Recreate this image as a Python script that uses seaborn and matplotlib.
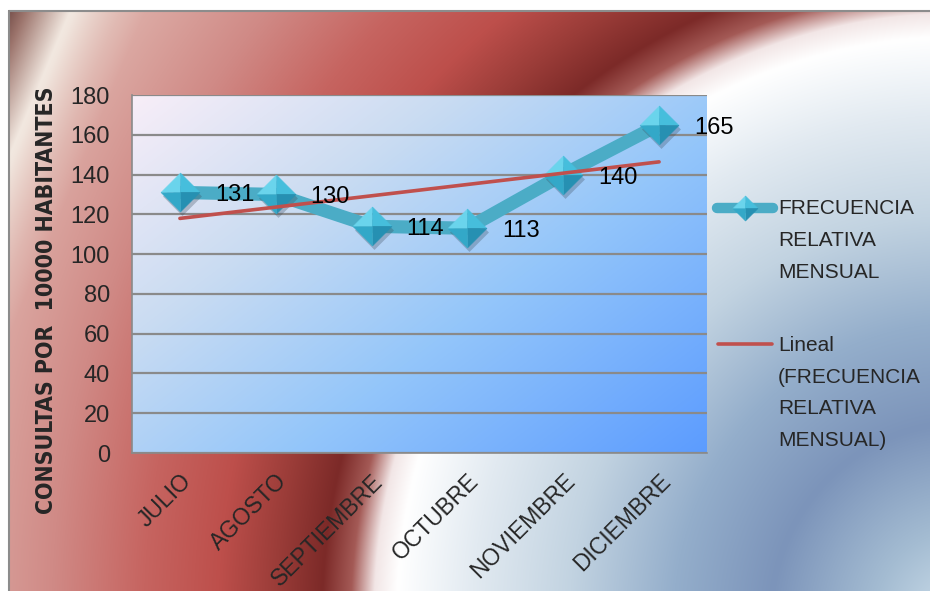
import numpy as np
import pandas as pd
import matplotlib
matplotlib.use("Agg")
import matplotlib.pyplot as plt
import matplotlib.transforms as mtransforms
from matplotlib.colors import to_rgb
import seaborn as sns

# ---- data ----
meses = ["JULIO", "AGOSTO", "SEPTIEMBRE", "OCTUBRE", "NOVIEMBRE", "DICIEMBRE"]
frecuencia = [131, 130, 114, 113, 140, 165]
marcas_y = [0, 20, 40, 60, 80, 100, 120, 140, 160, 180]
etiqueta_serie = "FRECUENCIA\nRELATIVA\nMENSUAL"
etiqueta_tendencia = "Lineal\n(FRECUENCIA\nRELATIVA\nMENSUAL)"
titulo_y = "CONSULTAS POR  10000 HABITANTES"

sns.set_theme(style="white")
plt.rcParams["font.family"] = ["Liberation Sans", "DejaVu Sans"]

TEAL = "#4bacc6"
RED = "#c0504d"
GRID = "#8a8a8a"

W, H = 930, 591
fig = plt.figure(figsize=(W / 100, H / 100), dpi=100)


def ramp(t, stops):
    pos = np.array([p for p, _ in stops])
    cols = np.array([to_rgb(c) for _, c in stops])
    return np.stack([np.interp(t, pos, cols[:, k]) for k in range(3)], axis=-1)


# ---- chart-area backdrop: red field with a white swoosh into blue-grey ----
yy, xx = np.mgrid[0:H, 0:W] + 0.5
r = np.hypot((xx - 960) / 575, (yy - 620) / 595)
backdrop = ramp(r, [
    (0.00, "#cfe0ec"), (0.15, "#a4bcd2"), (0.33, "#7c94ba"), (0.50, "#94aecb"),
    (0.68, "#c2d3e1"), (0.85, "#e2eaf1"), (0.98, "#ffffff"), (1.02, "#f2e6e6"),
    (1.06, "#a45a56"), (1.11, "#7c2a28"), (1.19, "#9a3c38"), (1.29, "#bd4f4b"),
    (1.42, "#c66460"), (1.58, "#d08a86"), (1.75, "#dcaaa4"), (1.95, "#e8d4cc"),
    (2.40, "#f0e4e0"),
])
s = xx + 0.42 * yy
sheen = ramp(s, [(0, "#5a3430"), (30, "#9c746c"), (75, "#f2e8e0"), (125, "#e6ccc4")])
wgt = np.clip((150 - s) / 70, 0, 1)[..., None]
backdrop = wgt * sheen + (1 - wgt) * backdrop
backdrop[(yy < 10) | (xx < 8)] = 1.0

bg = fig.add_axes([0, 0, 1, 1], zorder=0)
bg.imshow(backdrop, extent=(0, W, H, 0), aspect="auto", interpolation="bilinear")
bg.set_xlim(0, W)
bg.set_ylim(H, 0)
bg.axis("off")
bg.plot([8.5, 8.5], [10.5, H], color="#8c8c8c", lw=1.5)
bg.plot([8.5, W], [10.5, 10.5], color="#8c8c8c", lw=1.5)

# ---- plot area ----
ax = fig.add_axes([132 / W, 1 - 453 / H, 575 / W, 358 / H], zorder=1)
ax.patch.set_alpha(0)
gy, gx = np.mgrid[0:120, 0:200]
t = 0.55 * gx / 199 + 0.45 * gy / 119
fill = ramp(t, [(0.0, "#f8eef8"), (0.3, "#cadcf2"), (0.6, "#94c6fa"), (1.0, "#5c9cff")])
ax.imshow(fill, extent=(-0.5, 5.5, 0, 180), aspect="auto", zorder=0, interpolation="bilinear")

df = pd.DataFrame({"x": np.arange(len(meses)), "mes": meses, "frecuencia": frecuencia})
coef = np.polyfit(df["x"], df["frecuencia"], 1)
df["tendencia"] = np.polyval(coef, df["x"])

sns.lineplot(data=df, x="x", y="frecuencia", ax=ax, color=TEAL, lw=9.5, zorder=3)

# diamond markers built from four shaded facets, with a soft drop shadow
rombo = [(0, 1), (1, 0), (0, -1), (-1, 0)]
sombra = mtransforms.offset_copy(ax.transData, fig=fig, x=2, y=-4, units="dots")
ax.plot(df["x"], df["frecuencia"], ls="none", marker=rombo, ms=28, mfc="#3a4a5a",
        mec="none", alpha=0.3, transform=sombra, zorder=3.5)
facetas = [
    ([(0, 0), (-1, 0), (0, 1)], "#6ad4ec"),
    ([(0, 0), (0, 1), (1, 0)], "#46bedc"),
    ([(0, 0), (1, 0), (0, -1)], "#2690b2"),
    ([(0, 0), (0, -1), (-1, 0)], "#33a8c8"),
]
for verts, c in facetas:
    ax.plot(df["x"], df["frecuencia"], ls="none", marker=verts, ms=28, mfc=c,
            mec=c, mew=0.4, zorder=4)

sns.lineplot(data=df, x="x", y="tendencia", ax=ax, color=RED, lw=2.6, zorder=6)

for xi, v in zip(df["x"], df["frecuencia"]):
    ax.annotate(str(v), (xi, v), xytext=(35, -3), textcoords="offset pixels",
                ha="left", va="center", fontsize=17, color="black", zorder=7)

ax.set_xlim(-0.5, 5.5)
ax.set_ylim(0, 180)
ax.set_yticks(marcas_y)
ax.set_yticklabels([str(m) for m in marcas_y], fontsize=17)
ax.set_xticks(df["x"])
ax.set_xticklabels(meses, rotation=45, ha="right", rotation_mode="anchor", fontsize=16.5)
ax.tick_params(axis="y", length=0, pad=16)
ax.tick_params(axis="x", length=0, pad=12)
ax.set_xlabel("")
ax.set_ylabel("")
ax.grid(axis="y", color=GRID, lw=1.6)
ax.grid(axis="x", visible=False)
ax.set_axisbelow(True)
for side in ["top", "right"]:
    ax.spines[side].set_visible(False)
for side in ["left", "bottom"]:
    ax.spines[side].set_color(GRID)
    ax.spines[side].set_linewidth(1.2)

fig.text(47 / W, 1 - 300 / H, titulo_y, rotation=90, ha="center", va="center",
         fontsize=16.5, fontweight="bold", family="DejaVu Sans", fontstretch="condensed")

# ---- legend ----
bg.plot([717, 773], [208, 208], color=TEAL, lw=7.5, solid_capstyle="round")
for verts, c in facetas:
    bg.plot([745], [208], ls="none", marker=verts, ms=18, mfc=c, mec=c, mew=0.4)
bg.plot([718, 772], [344, 344], color=RED, lw=2.6)
bg.text(778, 199, etiqueta_serie, ha="left", va="top", fontsize=15, linespacing=1.85)
bg.text(778, 336, etiqueta_tendencia, ha="left", va="top", fontsize=15, linespacing=1.85)

fig.savefig("out.png", dpi=100)
